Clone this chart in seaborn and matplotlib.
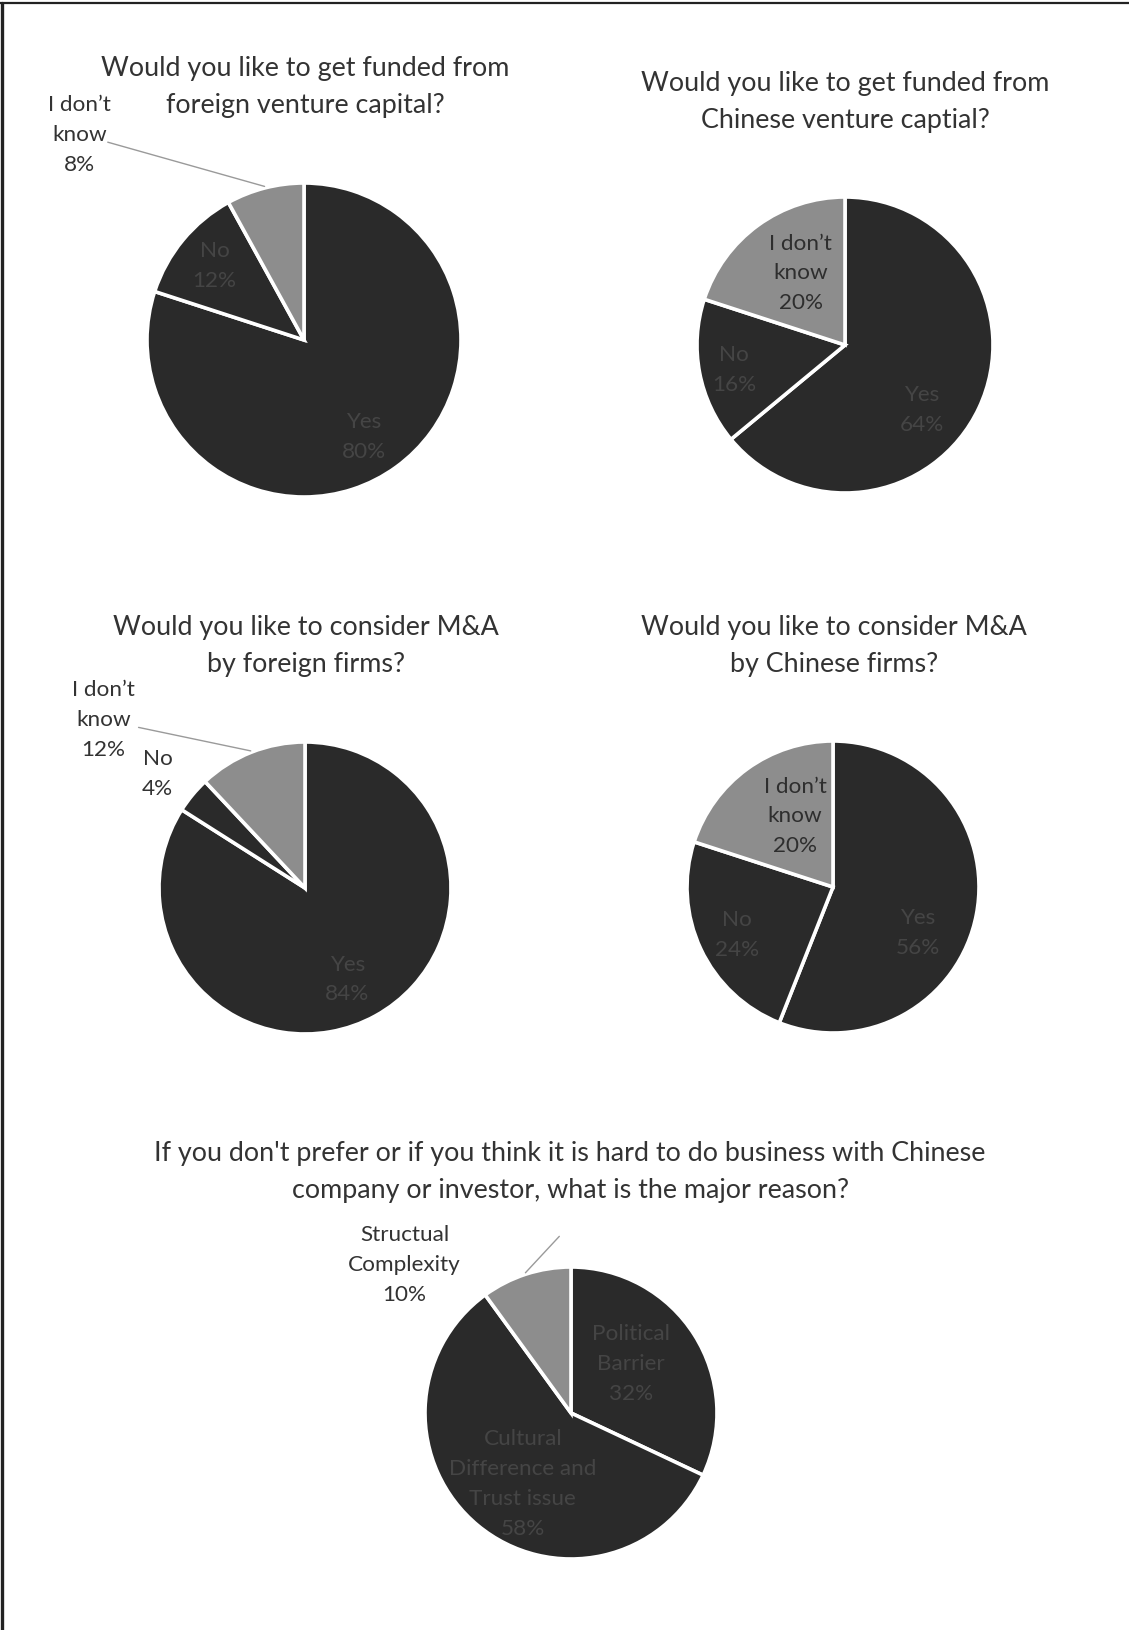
import matplotlib
matplotlib.use("Agg")
import matplotlib.pyplot as plt
from matplotlib.lines import Line2D
import seaborn as sns
import numpy as np

# ---------------- data ----------------
titles = [
    "Would you like to get funded from\nforeign venture capital?",
    "Would you like to get funded from\nChinese venture captial?",
    "Would you like to consider M&A\nby foreign firms?",
    "Would you like to consider M&A\nby Chinese firms?",
    "If you don't prefer or if you think it is hard to do business with Chinese\ncompany or investor, what is the major reason?",
]
answer_labels = ["Yes", "No", "I don\u2019t\nknow"]
foreign_vc = [80, 12, 8]
chinese_vc = [64, 16, 20]
foreign_ma = [84, 4, 12]
chinese_ma = [56, 24, 20]
reason_labels = ["Political\nBarrier", "Cultural\nDifference and\nTrust issue", "Structual\nComplexity"]
reason_values = [32, 58, 10]

# ---------------- style ----------------
sns.set_theme(style="white")
plt.rcParams["font.family"] = ["Lato", "DejaVu Sans"]

W, H, DPI = 1129, 1631, 100
DARK, GREY = "#2a2a2a", "#8d8d8d"
TXT = "#333333"
TITLE_FS = 19.4
LABEL_FS = 16.2

fig = plt.figure(figsize=(W / DPI, H / DPI), dpi=DPI)
fig.patch.set_facecolor("white")

# layout: centre (px), radius (px), title centre (px)
charts = [
    dict(vals=foreign_vc, labs=answer_labels, c=(304, 341), r=157, t=(305, 87),
         cols=[DARK, DARK, GREY],
         place=[("in", (0.38, -0.61)), ("in", (-0.57, 0.48)),
                ("out", (-1.43, 1.31), (-1.25, 1.26))]),
    dict(vals=chinese_vc, labs=answer_labels, c=(845, 346), r=148, t=(845, 102),
         cols=[DARK, DARK, GREY],
         place=[("in", (0.52, -0.43)), ("in", (-0.75, -0.16)), ("in", (-0.30, 0.49))]),
    dict(vals=foreign_ma, labs=answer_labels, c=(305, 889), r=146, t=(306, 646),
         cols=[DARK, DARK, GREY],
         place=[("in", (0.29, -0.62)), ("out", (-1.01, 0.79), None),
                ("out", (-1.38, 1.16), (-1.14, 1.10))]),
    dict(vals=chinese_ma, labs=answer_labels, c=(833, 888), r=146, t=(834, 646),
         cols=[DARK, DARK, GREY],
         place=[("in", (0.58, -0.31)), ("in", (-0.66, -0.32)), ("in", (-0.26, 0.49))]),
    dict(vals=reason_values, labs=reason_labels, c=(571, 1414), r=146, t=(570, 1172),
         cols=[DARK, DARK, GREY],
         place=[("in", (0.41, 0.34)), ("in", (-0.33, -0.48)),
                ("out", (-1.14, 1.02), (-0.08, 1.21))]),
]

for i, ch in enumerate(charts):
    cx, cy = ch["c"]
    r = ch["r"]
    ax = fig.add_axes([(cx - r) / W, 1 - (cy + r) / H, 2 * r / W, 2 * r / H])
    wedges, _ = ax.pie(ch["vals"], colors=ch["cols"], startangle=90, counterclock=False,
                       wedgeprops=dict(edgecolor="white", linewidth=2.6))
    ax.set_xlim(-1, 1)
    ax.set_ylim(-1, 1)
    ax.axis("off")
    total = sum(ch["vals"])
    for w, lab, v, pl in zip(wedges, ch["labs"], ch["vals"], ch["place"]):
        text = f"{lab}\n{round(100 * v / total)}%"
        if pl[0] == "in":
            col = "#454545" if w.get_facecolor()[0] < 0.3 else "#2e2e2e"
            ax.text(*pl[1], text, ha="center", va="center", fontsize=LABEL_FS,
                    color=col, linespacing=1.62, clip_on=False)
        else:
            ax.text(*pl[1], text, ha="center", va="center", fontsize=LABEL_FS,
                    color=TXT, linespacing=1.62, clip_on=False)
            if pl[2] is not None:
                mid = np.deg2rad((w.theta1 + w.theta2) / 2)
                edge = (1.01 * np.cos(mid), 1.01 * np.sin(mid))
                ax.add_line(Line2D([pl[2][0], edge[0]], [pl[2][1], edge[1]],
                                   color="#9a9a9a", lw=1.0, clip_on=False))
    tx, ty = ch["t"]
    fig.text(tx / W, 1 - ty / H, titles[i], ha="center", va="center",
             fontsize=TITLE_FS, color=TXT, linespacing=1.56)

# page frame (top and left rules of the scanned page)
fig.add_artist(Line2D([0, 1], [1 - 4 / H, 1 - 4 / H], color="#222222", lw=1.6))
fig.add_artist(Line2D([2 / W, 2 / W], [0, 1 - 4 / H], color="#222222", lw=2.4))

fig.savefig("out.png", dpi=DPI, facecolor="white")
